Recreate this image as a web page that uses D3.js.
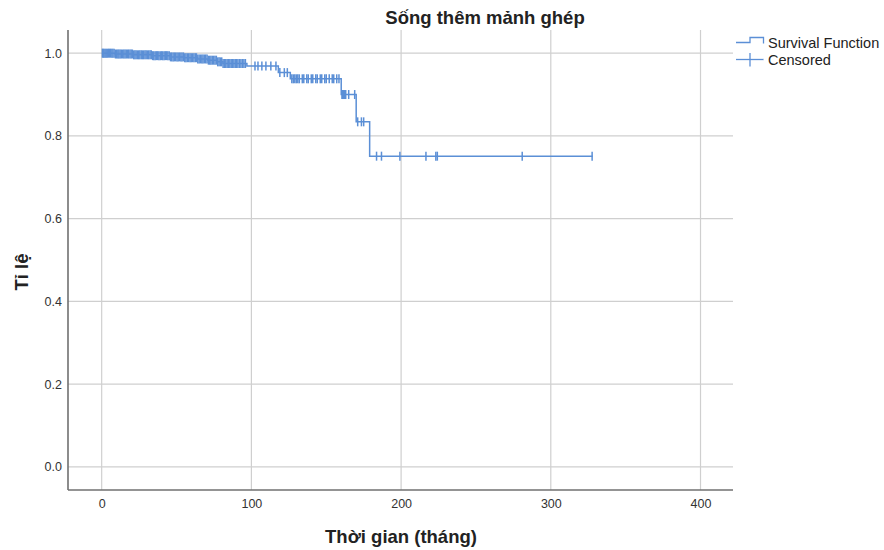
<!DOCTYPE html>
<html>
<head>
<meta charset="utf-8">
<script src="https://cdn.jsdelivr.net/npm/d3@7"></script>
<style>
  html, body { margin: 0; padding: 0; background: #fff; }
  svg { display: block; font-family: "Liberation Sans", Arial, sans-serif; }
</style>
</head>
<body>
<svg id="chart" width="884" height="550"></svg>
<script>
// ---- Data ----
const chartTitle = "Sống thêm mảnh ghép";
const xTitle = "Thời gian (tháng)";
const yTitle = "Tỉ lệ";
const legendLabels = ["Survival Function", "Censored"];

const xTicks = [0, 100, 200, 300, 400];
const yTicks = [0.0, 0.2, 0.4, 0.6, 0.8, 1.0];

// Kaplan-Meier step: survival after each event time
const eventTimes = [0, 9, 21, 34, 46, 55, 64, 71, 77, 81, 97, 118, 126, 160, 170, 179];
const survival   = [1.0, 0.998, 0.996, 0.994, 0.991, 0.989, 0.986, 0.983, 0.979, 0.975, 0.969, 0.953, 0.938, 0.900, 0.834, 0.751];
const lastTime = 328;

// Censored observation times
const censorTimes = [
  0.5, 1, 1.6, 2.3, 3, 3.7, 4.5, 5.2, 6, 6.8, 7.5, 8.3, 9.2, 10, 10.8, 11.5, 12.3, 13.1, 14, 14.8,
  15.6, 16.4, 17.3, 18, 18.9, 19.7, 20.5, 21.4, 22.2, 23, 23.9, 24.7, 25.5, 26.4, 27.2, 28, 28.9, 29.7,
  30.6, 31.4, 32.3, 33.1, 34, 34.8, 35.7, 36.5, 37.4, 38.2, 39.1, 40, 40.8, 41.7, 42.5, 43.4, 44.2,
  45.1, 46, 46.8, 47.7, 48.5, 49.4, 50.3, 51.1, 52, 52.9, 53.7, 54.6, 55.5, 56.3, 57.2, 58.1, 59,
  59.8, 60.7, 61.6, 62.5, 63.3, 64.2, 65.1, 66, 66.9, 67.7, 68.6, 69.5, 70.4, 71.3, 72.2, 73, 73.9,
  74.8, 75.7, 76.6, 77.5, 78.4, 79.3, 80.2, 81.1, 82, 82.9, 83.8, 84.7, 85.6, 86.5, 87.4, 88.3, 89.2,
  90.1, 91, 92, 93, 94, 95, 96,
  102.4, 104.4, 107, 109.7, 113, 116.4,
  119, 122, 124,
  127, 128, 129, 130, 131, 132, 134, 135, 137, 138, 140, 141, 143, 144, 146, 147, 149, 150, 152, 154, 155, 157, 158.5,
  160.5, 161, 161.6, 162.3, 163, 165, 169,
  171, 173.5, 175,
  183.6, 186.9, 199.2, 216.6, 223.2, 224.2, 280.9, 327.6
];

// ---- Layout ----
const svg = d3.select("#chart");
const W = 884, H = 550;
const plot = { left: 68, right: 733, top: 30, bottom: 490 };
const lineColor = "#5b8fd6";

svg.append("rect").attr("width", W).attr("height", H).attr("fill", "#fff");

const x = d3.scaleLinear().domain([-22.5, 421.7]).range([plot.left, plot.right]);
const y = d3.scaleLinear().domain([-0.056, 1.056]).range([plot.bottom, plot.top]);

// Grid lines
const grid = svg.append("g");
grid.selectAll("line.v").data(xTicks).join("line")
  .attr("x1", d => x(d)).attr("x2", d => x(d))
  .attr("y1", plot.top).attr("y2", plot.bottom)
  .attr("stroke", "#cfcfcf").attr("stroke-width", 1.2);
grid.selectAll("line.h").data(yTicks).join("line")
  .attr("x1", plot.left).attr("x2", plot.right)
  .attr("y1", d => y(d)).attr("y2", d => y(d))
  .attr("stroke", "#cfcfcf").attr("stroke-width", 1.2);

// Axes
const xAxis = d3.axisBottom(x).tickValues(xTicks).tickFormat(d3.format("d")).tickSize(0).tickPadding(9);
const yAxis = d3.axisLeft(y).tickValues(yTicks).tickFormat(d3.format(".1f")).tickSize(0).tickPadding(6);

const gx = svg.append("g").attr("transform", `translate(0,${plot.bottom})`).call(xAxis);
const gy = svg.append("g").attr("transform", `translate(${plot.left},0)`).call(yAxis);
[gx, gy].forEach(g => {
  g.select(".domain").remove();
  g.selectAll("text").attr("font-size", 12.5).attr("fill", "#333")
    .attr("font-family", "'Liberation Sans', Arial, sans-serif");
});

svg.append("line").attr("x1", plot.left).attr("x2", plot.left)
  .attr("y1", plot.top).attr("y2", plot.bottom)
  .attr("stroke", "#707070").attr("stroke-width", 1.6);
svg.append("line").attr("x1", plot.left).attr("x2", plot.right)
  .attr("y1", plot.bottom).attr("y2", plot.bottom)
  .attr("stroke", "#707070").attr("stroke-width", 1.6);

// Survival step line
const pts = eventTimes.map((t, i) => [t, survival[i]]);
pts.push([lastTime, survival[survival.length - 1]]);
const line = d3.line().x(d => x(d[0])).y(d => y(d[1])).curve(d3.curveStepAfter);
svg.append("path").attr("d", line(pts))
  .attr("fill", "none").attr("stroke", lineColor).attr("stroke-width", 1.5);

// Censor marks
const survAt = t => survival[d3.bisectRight(eventTimes, t) - 1];
svg.append("g").selectAll("line").data(censorTimes).join("line")
  .attr("x1", d => x(d)).attr("x2", d => x(d))
  .attr("y1", d => y(survAt(d)) - 4.5).attr("y2", d => y(survAt(d)) + 4.5)
  .attr("stroke", lineColor).attr("stroke-width", 1.5);

// Titles
svg.append("text").attr("x", 485).attr("y", 24).attr("text-anchor", "middle")
  .attr("font-size", 18.5).attr("font-weight", "bold").attr("fill", "#222").text(chartTitle);
svg.append("text").attr("x", 401).attr("y", 543).attr("text-anchor", "middle")
  .attr("font-size", 18.5).attr("font-weight", "bold").attr("fill", "#222").text(xTitle);
svg.append("text").attr("transform", "translate(28,272) rotate(-90)").attr("text-anchor", "middle")
  .attr("font-size", 18.5).attr("font-weight", "bold").attr("fill", "#222").text(yTitle);

// Legend
const lg = svg.append("g");
lg.append("path").attr("d", "M736,42.5 H750 V37.5 H763.5 V43.5")
  .attr("fill", "none").attr("stroke", lineColor).attr("stroke-width", 1.3);
lg.append("line").attr("x1", 736).attr("x2", 763.5).attr("y1", 59.5).attr("y2", 59.5)
  .attr("stroke", lineColor).attr("stroke-width", 1.3);
lg.append("line").attr("x1", 750).attr("x2", 750).attr("y1", 53).attr("y2", 66.5)
  .attr("stroke", lineColor).attr("stroke-width", 1.3);
lg.selectAll("text").data(legendLabels).join("text")
  .attr("x", 768).attr("y", (d, i) => 47.5 + i * 17.5)
  .attr("font-size", 14.5).attr("fill", "#222").text(d => d);
</script>
</body>
</html>
